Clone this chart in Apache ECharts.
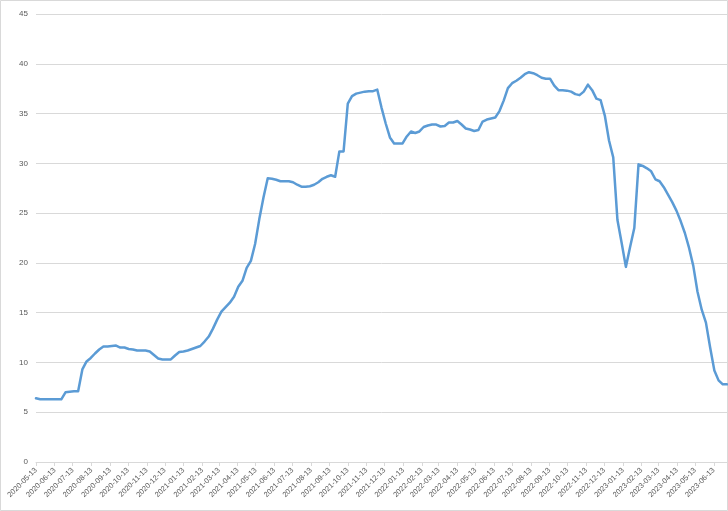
<!DOCTYPE html>
<html>
<head>
<meta charset="utf-8">
<script src="https://cdn.jsdelivr.net/npm/echarts@6/dist/echarts.min.js"></script>
<style>
html,body{margin:0;padding:0;background:#fff;}
#chart{width:728px;height:511px;}
</style>
</head>
<body>
<div id="chart"></div>
<script>
// weekly series, starting 2020-05-13 (every 7 days)
const startDate = '2020-05-13';
const endDate = '2023-07-05';
const values = [
 6.4,6.3,6.3,6.3,6.3,6.3,6.3,7.0,7.05,7.1,
 7.1,9.3,10.1,10.45,10.9,11.3,11.6,11.6,11.65,11.7,
 11.5,11.5,11.35,11.3,11.2,11.2,11.2,11.1,10.75,10.4,
 10.3,10.3,10.3,10.7,11.05,11.1,11.2,11.35,11.5,11.65,
 12.1,12.6,13.4,14.3,15.1,15.55,16.0,16.6,17.6,18.2,
 19.5,20.2,21.9,24.4,26.6,28.5,28.45,28.35,28.2,28.2,
 28.2,28.1,27.85,27.65,27.65,27.7,27.85,28.1,28.45,28.65,
 28.8,28.65,31.2,31.2,36.0,36.75,37.0,37.1,37.2,37.25,
 37.25,37.4,35.6,34.0,32.6,32.0,32.0,32.0,32.7,33.2,
 33.05,33.2,33.65,33.8,33.9,33.9,33.7,33.75,34.1,34.1,
 34.25,33.9,33.5,33.4,33.25,33.35,34.2,34.4,34.5,34.6,
 35.25,36.3,37.55,38.05,38.3,38.6,38.95,39.15,39.05,38.85,
 38.6,38.5,38.5,37.8,37.35,37.35,37.3,37.2,36.95,36.85,
 37.2,37.9,37.35,36.5,36.35,34.8,32.3,30.6,24.3,22.0,
 19.6,21.6,23.5,29.9,29.75,29.5,29.2,28.4,28.2,27.6,
 26.85,26.1,25.25,24.2,23.0,21.5,19.7,17.1,15.3,14.0,
 11.5,9.2,8.2,7.8,7.8
];
const yTicks = [0,5,10,15,20,25,30,35,40,45];

function fmt(d){
  const m = String(d.getUTCMonth()+1).padStart(2,'0');
  const dd = String(d.getUTCDate()).padStart(2,'0');
  return d.getUTCFullYear()+'-'+m+'-'+dd;
}
// daily categories so month labels fall on the 13th of each month
const days = [];
for (let t = Date.parse(startDate+'T00:00:00Z'); t <= Date.parse(endDate+'T00:00:00Z'); t += 86400000) {
  days.push(fmt(new Date(t)));
}
const weekDates = values.map((v,i)=>fmt(new Date(Date.parse(startDate+'T00:00:00Z') + i*7*86400000)));
const seriesData = weekDates.map((d,i)=>[d, values[i]]);

const isLabelDay = (idx, val) => val.slice(8) === '13';

const chart = echarts.init(document.getElementById('chart'), null, {renderer:'canvas'});
chart.setOption({
  animation:false,
  backgroundColor:'#ffffff',
  grid:{left:36, right:1, top:14, bottom:49, containLabel:false},
  xAxis:{
    type:'category',
    data:days,
    boundaryGap:false,
    axisLine:{show:true, lineStyle:{color:'#d9d9d9', width:1}},
    axisTick:{show:true, interval:isLabelDay, length:4, lineStyle:{color:'#d9d9d9'}},
    axisLabel:{interval:isLabelDay, rotate:45, margin:7, fontSize:7.5, color:'#595959', fontFamily:'Liberation Sans, Arial, sans-serif'},
    splitLine:{show:false}
  },
  yAxis:{
    type:'value',
    min:yTicks[0], max:yTicks[yTicks.length-1], interval:5,
    axisLine:{show:false},
    axisTick:{show:false},
    axisLabel:{margin:8, fontSize:8, color:'#595959', fontFamily:'Liberation Sans, Arial, sans-serif'},
    splitLine:{lineStyle:{color:'#d9d9d9', width:1}}
  },
  graphic:[{type:'rect', shape:{x:0.5,y:0.5,width:727,height:510}, style:{fill:'none', stroke:'#d9d9d9', lineWidth:1}, silent:true}],
  series:[{
    type:'line',
    data:seriesData,
    showSymbol:false,
    symbol:'none',
    lineStyle:{color:'#5b9bd5', width:2.5, join:'round', cap:'round'},
    itemStyle:{color:'#5b9bd5'}
  }]
});
</script>
</body>
</html>
